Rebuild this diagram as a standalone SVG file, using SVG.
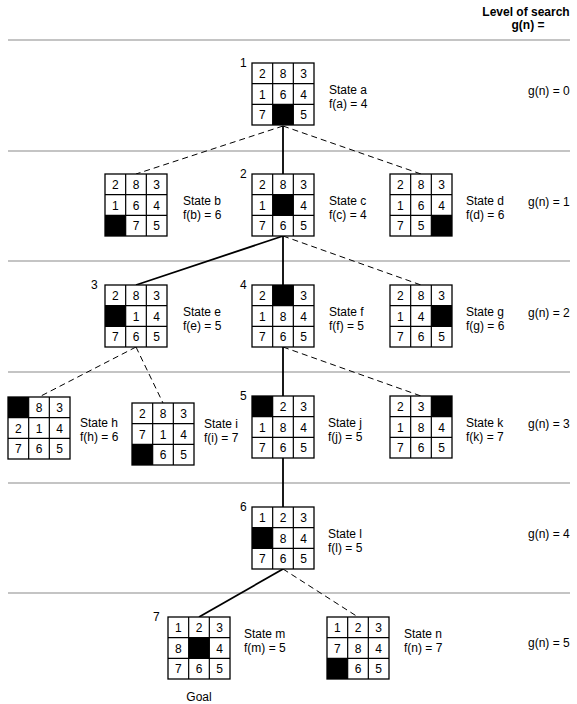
<svg xmlns="http://www.w3.org/2000/svg" xmlns:xlink="http://www.w3.org/1999/xlink" width="577" height="704" viewBox="0 0 577 704">
<style>
text{font-family:"Liberation Sans",Arial,Helvetica,sans-serif;font-size:12px;fill:#000}
.d{text-anchor:middle}
.hd{font-weight:bold;text-anchor:middle}
.sep{stroke:#8a8a8a;stroke-width:1.2;fill:none}
.solid{stroke:#000;stroke-width:1.8;fill:none}
.dash{stroke:#000;stroke-width:1;stroke-dasharray:6 4;fill:none}
.blank{fill:#000}
</style>
<defs>
<g id="frame">
<rect x="0" y="0" width="62" height="62" fill="#fff" stroke="#000" stroke-width="1.3"/>
<path d="M20.67 0V62M41.33 0V62M0 20.67H62M0 41.33H62" stroke="#000" stroke-width="1.2" fill="none"/>
</g>
</defs>
<rect width="577" height="704" fill="#fff"/>
<g id="header">
<text class="hd" x="526" y="16">Level of search</text>
<text class="hd" x="528" y="29">g(n) =</text>
</g>
<g id="separators">
<path class="sep" d="M8 40H570M8 151H570M8 261H570M8 372H570M8 483H570M8 593H570"/>
</g>
<g id="levels">
<text x="528" y="95">g(n) = 0</text>
<text x="528" y="206">g(n) = 1</text>
<text x="528" y="317">g(n) = 2</text>
<text x="528" y="428">g(n) = 3</text>
<text x="528" y="538">g(n) = 4</text>
<text x="528" y="647">g(n) = 5</text>
</g>
<g id="connectors">
<path class="dash" d="M283 126L136 174"/>
<path class="solid" d="M283 126V174"/>
<path class="dash" d="M283 126L421 174"/>
<path class="solid" d="M283 236L136 285"/>
<path class="solid" d="M283 236V285"/>
<path class="dash" d="M283 236L421 285"/>
<path class="dash" d="M136 347L39 397"/>
<path class="dash" d="M136 347L163 403"/>
<path class="solid" d="M283 347V396"/>
<path class="dash" d="M283 347L421 396"/>
<path class="solid" d="M283 458V507"/>
<path class="solid" d="M283 569L199 617"/>
<path class="dash" d="M283 569L358 617"/>
</g>
<g id="state-a" transform="translate(252,63)">
<use xlink:href="#frame"/><rect class="blank" x="20.67" y="41.33" width="20.67" height="20.67"/>
<text class="d" x="10.33" y="15">2</text><text class="d" x="31" y="15">8</text><text class="d" x="51.67" y="15">3</text>
<text class="d" x="10.33" y="35.5">1</text><text class="d" x="31" y="35.5">6</text><text class="d" x="51.67" y="35.5">4</text>
<text class="d" x="10.33" y="56">7</text><text class="d" x="51.67" y="56">5</text>
</g>
<g id="label-a"><text x="240" y="67">1</text><text x="329" y="94">State a</text><text x="329" y="108">f(a) = 4</text></g>
<g id="state-b" transform="translate(105,174)">
<use xlink:href="#frame"/><rect class="blank" x="0" y="41.33" width="20.67" height="20.67"/>
<text class="d" x="10.33" y="15">2</text><text class="d" x="31" y="15">8</text><text class="d" x="51.67" y="15">3</text>
<text class="d" x="10.33" y="35.5">1</text><text class="d" x="31" y="35.5">6</text><text class="d" x="51.67" y="35.5">4</text>
<text class="d" x="31" y="56">7</text><text class="d" x="51.67" y="56">5</text>
</g>
<g id="label-b"><text x="183" y="205">State b</text><text x="183" y="219">f(b) = 6</text></g>
<g id="state-c" transform="translate(252,174)">
<use xlink:href="#frame"/><rect class="blank" x="20.67" y="20.67" width="20.67" height="20.67"/>
<text class="d" x="10.33" y="15">2</text><text class="d" x="31" y="15">8</text><text class="d" x="51.67" y="15">3</text>
<text class="d" x="10.33" y="35.5">1</text><text class="d" x="51.67" y="35.5">4</text>
<text class="d" x="10.33" y="56">7</text><text class="d" x="31" y="56">6</text><text class="d" x="51.67" y="56">5</text>
</g>
<g id="label-c"><text x="240" y="178">2</text><text x="329" y="205">State c</text><text x="329" y="219">f(c) = 4</text></g>
<g id="state-d" transform="translate(390,174)">
<use xlink:href="#frame"/><rect class="blank" x="41.33" y="41.33" width="20.67" height="20.67"/>
<text class="d" x="10.33" y="15">2</text><text class="d" x="31" y="15">8</text><text class="d" x="51.67" y="15">3</text>
<text class="d" x="10.33" y="35.5">1</text><text class="d" x="31" y="35.5">6</text><text class="d" x="51.67" y="35.5">4</text>
<text class="d" x="10.33" y="56">7</text><text class="d" x="31" y="56">5</text>
</g>
<g id="label-d"><text x="466" y="205">State d</text><text x="466" y="219">f(d) = 6</text></g>
<g id="state-e" transform="translate(105,285)">
<use xlink:href="#frame"/><rect class="blank" x="0" y="20.67" width="20.67" height="20.67"/>
<text class="d" x="10.33" y="15">2</text><text class="d" x="31" y="15">8</text><text class="d" x="51.67" y="15">3</text>
<text class="d" x="31" y="35.5">1</text><text class="d" x="51.67" y="35.5">4</text>
<text class="d" x="10.33" y="56">7</text><text class="d" x="31" y="56">6</text><text class="d" x="51.67" y="56">5</text>
</g>
<g id="label-e"><text x="91" y="289">3</text><text x="183" y="316">State e</text><text x="183" y="330">f(e) = 5</text></g>
<g id="state-f" transform="translate(252,285)">
<use xlink:href="#frame"/><rect class="blank" x="20.67" y="0" width="20.67" height="20.67"/>
<text class="d" x="10.33" y="15">2</text><text class="d" x="51.67" y="15">3</text>
<text class="d" x="10.33" y="35.5">1</text><text class="d" x="31" y="35.5">8</text><text class="d" x="51.67" y="35.5">4</text>
<text class="d" x="10.33" y="56">7</text><text class="d" x="31" y="56">6</text><text class="d" x="51.67" y="56">5</text>
</g>
<g id="label-f"><text x="240" y="289">4</text><text x="329" y="316">State f</text><text x="329" y="330">f(f) = 5</text></g>
<g id="state-g" transform="translate(390,285)">
<use xlink:href="#frame"/><rect class="blank" x="41.33" y="20.67" width="20.67" height="20.67"/>
<text class="d" x="10.33" y="15">2</text><text class="d" x="31" y="15">8</text><text class="d" x="51.67" y="15">3</text>
<text class="d" x="10.33" y="35.5">1</text><text class="d" x="31" y="35.5">4</text>
<text class="d" x="10.33" y="56">7</text><text class="d" x="31" y="56">6</text><text class="d" x="51.67" y="56">5</text>
</g>
<g id="label-g"><text x="466" y="316">State g</text><text x="466" y="330">f(g) = 6</text></g>
<g id="state-h" transform="translate(8,397)">
<use xlink:href="#frame"/><rect class="blank" x="0" y="0" width="20.67" height="20.67"/>
<text class="d" x="31" y="15">8</text><text class="d" x="51.67" y="15">3</text>
<text class="d" x="10.33" y="35.5">2</text><text class="d" x="31" y="35.5">1</text><text class="d" x="51.67" y="35.5">4</text>
<text class="d" x="10.33" y="56">7</text><text class="d" x="31" y="56">6</text><text class="d" x="51.67" y="56">5</text>
</g>
<g id="label-h"><text x="80" y="427">State h</text><text x="80" y="441">f(h) = 6</text></g>
<g id="state-i" transform="translate(132,403)">
<use xlink:href="#frame"/><rect class="blank" x="0" y="41.33" width="20.67" height="20.67"/>
<text class="d" x="10.33" y="15">2</text><text class="d" x="31" y="15">8</text><text class="d" x="51.67" y="15">3</text>
<text class="d" x="10.33" y="35.5">7</text><text class="d" x="31" y="35.5">1</text><text class="d" x="51.67" y="35.5">4</text>
<text class="d" x="31" y="56">6</text><text class="d" x="51.67" y="56">5</text>
</g>
<g id="label-i"><text x="204" y="428">State i</text><text x="204" y="442">f(i) = 7</text></g>
<g id="state-j" transform="translate(252,396)">
<use xlink:href="#frame"/><rect class="blank" x="0" y="0" width="20.67" height="20.67"/>
<text class="d" x="31" y="15">2</text><text class="d" x="51.67" y="15">3</text>
<text class="d" x="10.33" y="35.5">1</text><text class="d" x="31" y="35.5">8</text><text class="d" x="51.67" y="35.5">4</text>
<text class="d" x="10.33" y="56">7</text><text class="d" x="31" y="56">6</text><text class="d" x="51.67" y="56">5</text>
</g>
<g id="label-j"><text x="240" y="400">5</text><text x="328" y="427">State j</text><text x="328" y="441">f(j) = 5</text></g>
<g id="state-k" transform="translate(390,396)">
<use xlink:href="#frame"/><rect class="blank" x="41.33" y="0" width="20.67" height="20.67"/>
<text class="d" x="10.33" y="15">2</text><text class="d" x="31" y="15">3</text>
<text class="d" x="10.33" y="35.5">1</text><text class="d" x="31" y="35.5">8</text><text class="d" x="51.67" y="35.5">4</text>
<text class="d" x="10.33" y="56">7</text><text class="d" x="31" y="56">6</text><text class="d" x="51.67" y="56">5</text>
</g>
<g id="label-k"><text x="466" y="427">State k</text><text x="466" y="441">f(k) = 7</text></g>
<g id="state-l" transform="translate(252,507)">
<use xlink:href="#frame"/><rect class="blank" x="0" y="20.67" width="20.67" height="20.67"/>
<text class="d" x="10.33" y="15">1</text><text class="d" x="31" y="15">2</text><text class="d" x="51.67" y="15">3</text>
<text class="d" x="31" y="35.5">8</text><text class="d" x="51.67" y="35.5">4</text>
<text class="d" x="10.33" y="56">7</text><text class="d" x="31" y="56">6</text><text class="d" x="51.67" y="56">5</text>
</g>
<g id="label-l"><text x="240" y="511">6</text><text x="328" y="538">State l</text><text x="328" y="552">f(l) = 5</text></g>
<g id="state-m" transform="translate(168,617)">
<use xlink:href="#frame"/><rect class="blank" x="20.67" y="20.67" width="20.67" height="20.67"/>
<text class="d" x="10.33" y="15">1</text><text class="d" x="31" y="15">2</text><text class="d" x="51.67" y="15">3</text>
<text class="d" x="10.33" y="35.5">8</text><text class="d" x="51.67" y="35.5">4</text>
<text class="d" x="10.33" y="56">7</text><text class="d" x="31" y="56">6</text><text class="d" x="51.67" y="56">5</text>
</g>
<g id="label-m"><text x="153" y="621">7</text><text x="244" y="638">State m</text><text x="244" y="652">f(m) = 5</text><text class="d" x="199" y="701">Goal</text></g>
<g id="state-n" transform="translate(327,617)">
<use xlink:href="#frame"/><rect class="blank" x="0" y="41.33" width="20.67" height="20.67"/>
<text class="d" x="10.33" y="15">1</text><text class="d" x="31" y="15">2</text><text class="d" x="51.67" y="15">3</text>
<text class="d" x="10.33" y="35.5">7</text><text class="d" x="31" y="35.5">8</text><text class="d" x="51.67" y="35.5">4</text>
<text class="d" x="31" y="56">6</text><text class="d" x="51.67" y="56">5</text>
</g>
<g id="label-n"><text x="404" y="638">State n</text><text x="404" y="652">f(n) = 7</text></g>
</svg>
